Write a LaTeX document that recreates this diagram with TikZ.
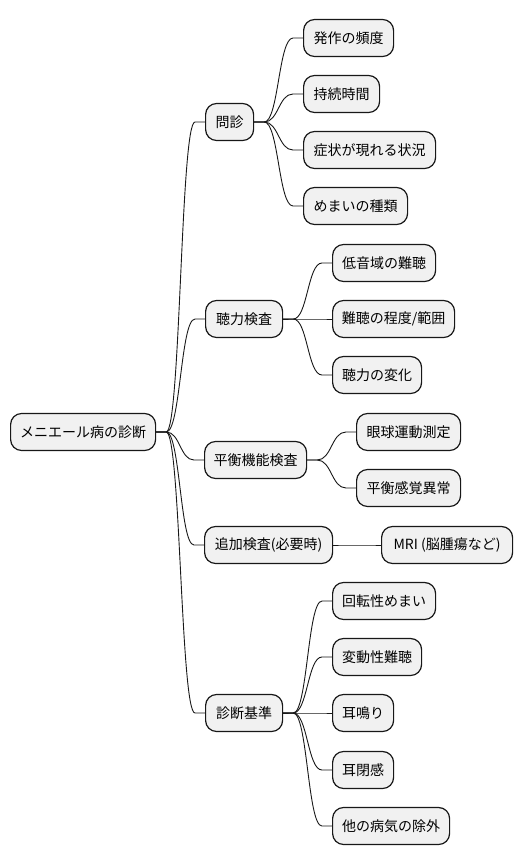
\documentclass[tikz,border=0pt]{standalone}
\usepackage{fontspec}
\newfontfamily\jpfont{Noto Sans CJK JP}
\usetikzlibrary{calc}
\definecolor{boxfill}{HTML}{F1F1F1}
\definecolor{boxline}{HTML}{181818}
\tikzset{
  mmbox/.style={draw=boxline, fill=boxfill, rounded corners=11pt, line width=1.2pt,
    minimum height=37pt, inner sep=0pt, anchor=west, align=center,
    font=\jpfont\fontsize{14pt}{16pt}\selectfont, text=black},
  mmline/.style={draw=boxline, line width=0.9pt}
}
\newcommand\mmconn[2]{%
  \draw[mmline] let \p1=(#1.east), \p2=(#2.west) in
    (\p1) -- ($(\p1)+(10,0)$) .. controls ($(0.5*\x1+0.5*\x2,\y1)$) and ($(0.5*\x1+0.5*\x2,\y2)$) .. ($(\p2)+(-10,0)$) -- (\p2);}
\begin{document}
\begin{tikzpicture}[x=1pt,y=-1pt]
\useasboundingbox (0,0) rectangle (527,865);
\node[mmbox, minimum width=145pt] (root) at (10,432) {メニエール病の診断};
\node[mmbox, minimum width=48pt] (a) at (205,122) {問診};
\node[mmbox, minimum width=77pt] (b) at (205,319) {聴力検査};
\node[mmbox, minimum width=102pt] (c) at (204,460) {平衡機能検査};
\node[mmbox, minimum width=128pt] (d) at (204,545) {追加検査(必要時)};
\node[mmbox, minimum width=77pt] (e) at (205,713) {診断基準};
\node[mmbox, minimum width=90pt] (a1) at (303,38) {発作の頻度};
\node[mmbox, minimum width=76pt] (a2) at (303,94) {持続時間};
\node[mmbox, minimum width=132pt] (a3) at (303,150) {症状が現れる状況};
\node[mmbox, minimum width=104pt] (a4) at (303,206) {めまいの種類};
\node[mmbox, minimum width=103pt] (b1) at (332,263) {低音域の難聴};
\node[mmbox, minimum width=122pt] (b2) at (332,319) {難聴の程度/範囲};
\node[mmbox, minimum width=89pt] (b3) at (332,375) {聴力の変化};
\node[mmbox, minimum width=104pt] (c1) at (356,432) {眼球運動測定};
\node[mmbox, minimum width=104pt] (c2) at (356,488) {平衡感覚異常};
\node[mmbox, minimum width=131pt] (d1) at (381,545) {MRI (脳腫瘍など)};
\node[mmbox, minimum width=103pt] (e1) at (332,601) {回転性めまい};
\node[mmbox, minimum width=89pt] (e2) at (332,657) {変動性難聴};
\node[mmbox, minimum width=61pt] (e3) at (332,713) {耳鳴り};
\node[mmbox, minimum width=61pt] (e4) at (332,770) {耳閉感};
\node[mmbox, minimum width=117pt] (e5) at (332,826) {他の病気の除外};
\foreach \mmP/\mmC in {root/a,root/b,root/c,root/d,root/e,a/a1,a/a2,a/a3,a/a4,b/b1,b/b2,b/b3,c/c1,c/c2,d/d1,e/e1,e/e2,e/e3,e/e4,e/e5}{\mmconn{\mmP}{\mmC}}
\end{tikzpicture}
\end{document}
